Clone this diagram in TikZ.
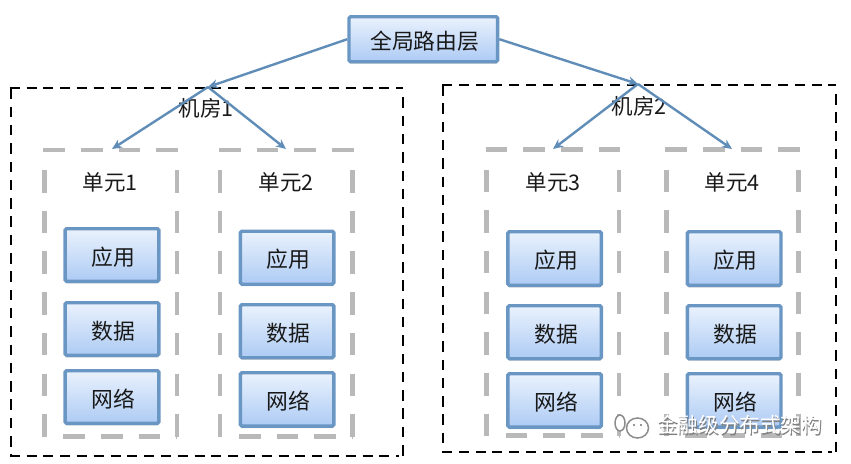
\documentclass[tikz,border=0pt]{standalone}
\usepackage{fontspec}
\setmainfont{Noto Sans CJK SC}
\usetikzlibrary{arrows.meta,shadows}
\definecolor{edgeblue}{HTML}{6A96C4}
\definecolor{arrowblue}{HTML}{5F8DB8}
\definecolor{lightblue}{HTML}{EAF2FD}
\definecolor{midblue}{HTML}{ADCBF4}
\definecolor{unitgray}{HTML}{B9B9B9}
\tikzset{
  bluebox/.style={draw=edgeblue,line width=3.4pt,rounded corners=1.5pt,top color=lightblue,bottom color=midblue,
    anchor=north west,inner sep=0pt,font=\fontsize{21.8}{22}\selectfont,text=black!90,
    text height=20.5pt,text depth=0.5pt,
    drop shadow={shadow xshift=0pt,shadow yshift=-2pt,opacity=.25,fill=black}},
  roomh/.style={draw=black,line width=2.2pt,dash pattern=on 10pt off 6.8pt},
  roomv/.style={draw=black,line width=2.2pt,dash pattern=on 10.5pt off 7.8pt},
  unith/.style={draw=unitgray,line width=4.8pt,dash pattern=on 21.5pt off 16.2pt},
  unitv/.style={draw=unitgray,line width=4.8pt,dash pattern=on 22.5pt off 18.2pt},
  label/.style={inner sep=0pt,font=\fontsize{21.5}{22}\selectfont,text=black!90},
  link/.style={draw=arrowblue,line width=2.4pt,-{Stealth[length=10pt,width=9pt]}},
}
\newcommand{\bbox}[5]{\node[bluebox,minimum width=#3,minimum height=#4] (#1) at #2 {\hspace*{3pt}#5};}
% left right top bottom
\newcommand{\unitframe}[4]{%
  \draw[unith] (#1-1,#3) -- (#2+2,#3);
  \draw[unith] (#1+19,#4-1.5) -- (#2,#4-1.5);
  \draw[unitv] (#1,#3+20) -- (#1,#4);
  \draw[unitv] (#2,#3+20) -- (#2,#4);
}
\newcommand{\roomframe}[4]{%
  \draw[roomh] (#1-1,#3) -- (#2,#3);
  \draw[roomh] (#1-1,#4) -- (#2-4,#4);
  \draw[roomv] (#1,#3) -- (#1,#4);
  \draw[roomv] (#2,#3+9) -- (#2,#4);
}
\begin{document}
\begin{tikzpicture}[x=1pt,y=-1pt]
\useasboundingbox (0,0) rectangle (851,463);
% rooms and units
\roomframe{10.7}{402.7}{88.3}{455.7}
\roomframe{443}{835.7}{85}{452.3}
\unitframe{44.3}{177}{150}{438}
\unitframe{220}{352.7}{150}{438}
\unitframe{486.7}{619}{149.5}{437}
\unitframe{666.3}{798.3}{149.5}{437}
% boxes
\bbox{top}{(347.3,15)}{148.6pt}{45pt}{全局路由层}
\bbox{a1}{(63.4,227)}{93.8pt}{52.6pt}{应用}
\bbox{a2}{(63.4,301)}{93.8pt}{52.6pt}{数据}
\bbox{a3}{(63.4,369)}{93.8pt}{52.6pt}{网络}
\bbox{b1}{(238.7,229.5)}{93.4pt}{53pt}{应用}
\bbox{b2}{(238.7,303)}{93.4pt}{53pt}{数据}
\bbox{b3}{(238.7,371)}{93.4pt}{53.4pt}{网络}
\bbox{c1}{(506.2,230)}{93.4pt}{53.6pt}{应用}
\bbox{c2}{(506.2,304)}{93.4pt}{53pt}{数据}
\bbox{c3}{(506.2,372)}{93.4pt}{53.4pt}{网络}
\bbox{d1}{(685.7,230)}{93.6pt}{53.6pt}{应用}
\bbox{d2}{(685.7,304)}{93.6pt}{53pt}{数据}
\bbox{d3}{(685.7,372)}{93.6pt}{53.4pt}{网络}
% labels
\node[label] (r1) at (206,108) {机房1};
\node[label] (r2) at (639,106) {机房2};
\node[label] (u1) at (110,182) {单元1};
\node[label] (u2) at (286,182) {单元2};
\node[label] (u3) at (553,182) {单元3};
\node[label] (u4) at (732,182) {单元4};
% connectors
\coordinate (h1) at (208,87);
\coordinate (h2) at (638,84);
\coordinate (t1) at (112,149);
\coordinate (t2) at (286,149);
\coordinate (t3) at (553,149);
\coordinate (t4) at (732,149);
\draw[link] (top.west) -- (h1);
\draw[link] (top.east) -- (h2);
\draw[link] (h1) -- (t1);
\draw[link] (h1) -- (t2);
\draw[link] (h2) -- (t3);
\draw[link] (h2) -- (t4);
% watermark
\filldraw[draw=black!45,line width=1.5pt,fill=white] (620,423) ellipse (5pt and 8pt);
\filldraw[draw=black!45,line width=1.5pt,fill=white] (637.5,428) ellipse (11pt and 10pt);
\fill[black!55] (634,425) circle (1.2pt) (641,425) circle (1.2pt);
\node[inner sep=0pt,anchor=west,text=black!50,font=\fontsize{20.6}{21}\selectfont] (wms) at (658,426.5) {金融级分布式架构};
\node[inner sep=0pt,anchor=west,text=white,font=\fontsize{20.6}{21}\selectfont] (wm) at (657,425) {金融级分布式架构};
\end{tikzpicture}
\end{document}
